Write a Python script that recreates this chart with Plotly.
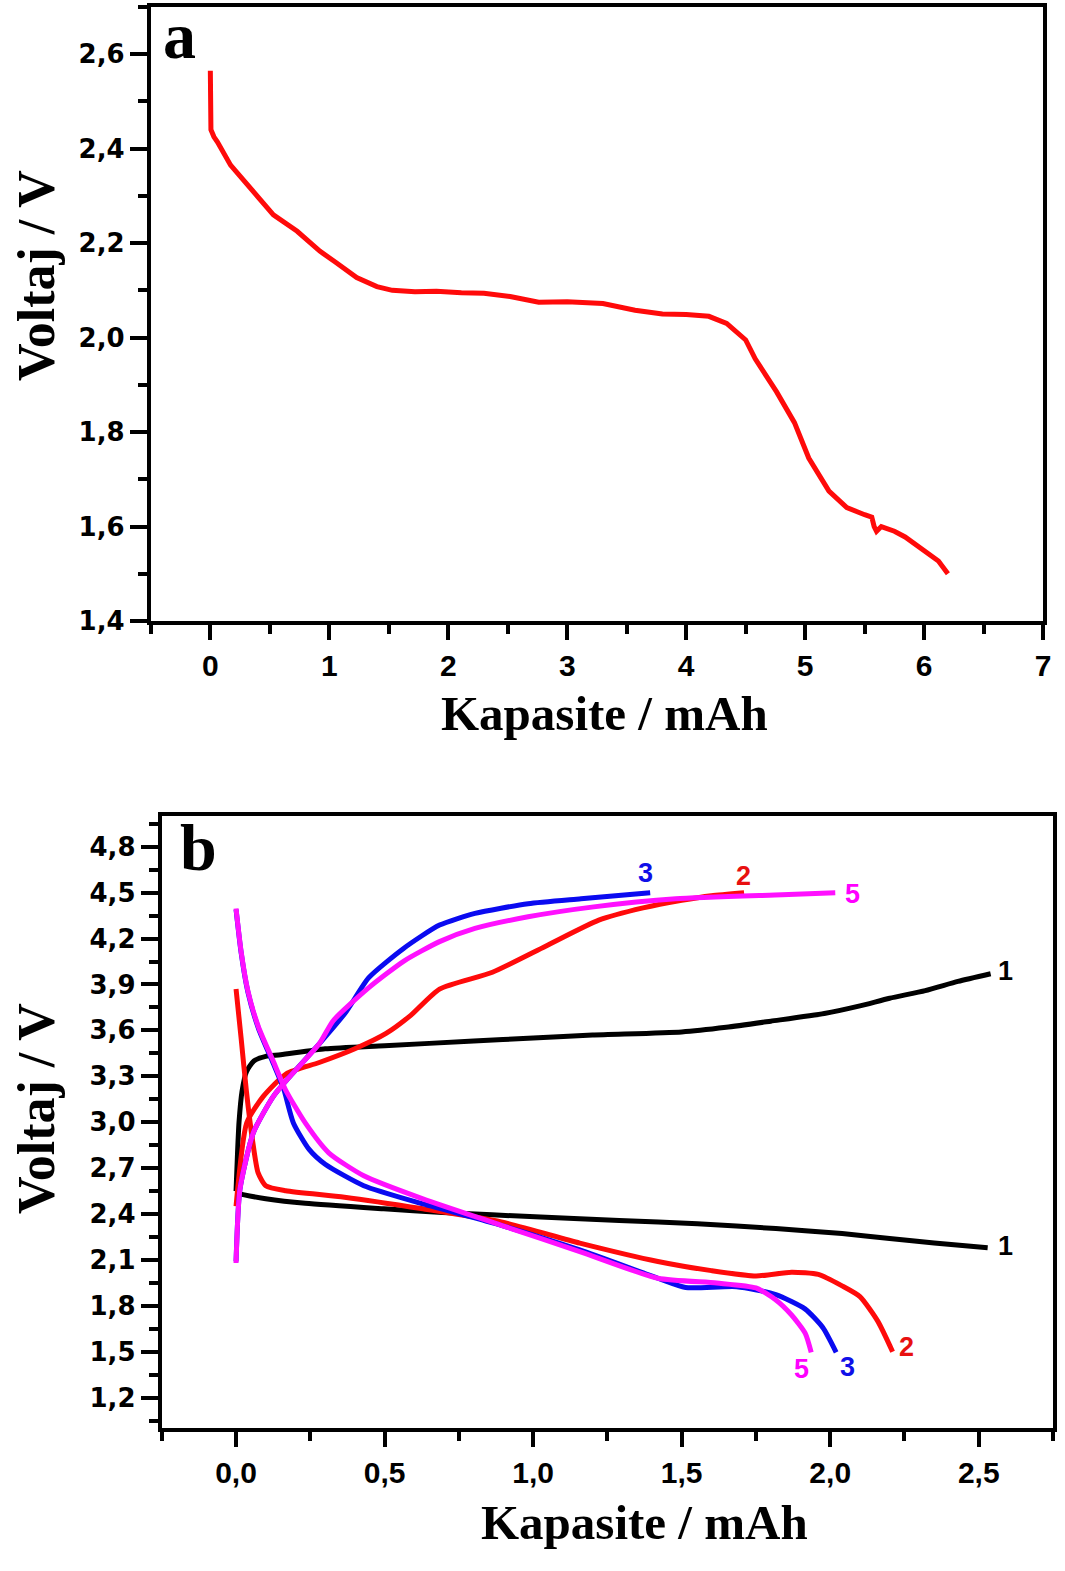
import plotly.graph_objects as go

W, H = 1065, 1571

# ---------------- Panel a data ----------------
a_cap = [0, 0.005, 0.03, 0.06, 0.17, 0.34, 0.53, 0.73, 0.92, 1.05, 1.23, 1.4, 1.53, 1.72,
         1.9, 2.11, 2.3, 2.52, 2.76, 3.0, 3.3, 3.57, 3.8, 4.0, 4.19, 4.34, 4.44, 4.5, 4.58,
         4.76, 4.91, 5.03, 5.2, 5.35, 5.5, 5.56, 5.58, 5.6, 5.64, 5.75, 5.84, 6.0, 6.12, 6.2]
a_volt = [2.565, 2.44, 2.425, 2.414, 2.365, 2.316, 2.26, 2.225, 2.183, 2.16, 2.127, 2.108, 2.1, 2.097,
          2.098, 2.095, 2.094, 2.087, 2.075, 2.076, 2.072, 2.058, 2.05, 2.049, 2.045, 2.03, 2.01, 1.995, 1.955,
          1.885, 1.82, 1.745, 1.675, 1.64, 1.625, 1.62, 1.60, 1.59, 1.60, 1.59, 1.578, 1.55, 1.527, 1.50]

# ---------------- Panel b data ----------------
# cycle 1 (black)
c1_ch_x = [0, 0.005, 0.01, 0.02, 0.035, 0.06, 0.1, 0.15, 0.3, 0.5, 0.8, 1.0, 1.2, 1.5, 1.65, 1.8, 1.98, 2.1, 2.2, 2.32, 2.43, 2.54]
c1_ch_y = [2.55, 2.8, 3.0, 3.2, 3.33, 3.4, 3.43, 3.44, 3.48, 3.5, 3.53, 3.55, 3.57, 3.59, 3.62, 3.66, 3.71, 3.76, 3.81, 3.86, 3.92, 3.97]
c1_dis_x = [0, 0.028, 0.10, 0.233, 0.497, 0.695, 1.025, 1.29, 1.553, 1.817, 2.04, 2.2, 2.35, 2.53]
c1_dis_y = [2.54, 2.525, 2.50, 2.47, 2.434, 2.41, 2.38, 2.358, 2.337, 2.305, 2.272, 2.24, 2.21, 2.18]
# cycle 2 (red)
c2_ch_x = [0, 0.036, 0.091, 0.17, 0.28, 0.40, 0.505, 0.589, 0.685, 0.863, 1.042, 1.221, 1.37, 1.5, 1.6, 1.71]
c2_ch_y = [2.45, 2.995, 3.167, 3.318, 3.39, 3.48, 3.58, 3.70, 3.87, 3.98, 4.15, 4.32, 4.40, 4.45, 4.48, 4.50]
c2_dis_x = [0, 0.017, 0.035, 0.055, 0.074, 0.10, 0.167, 0.365, 0.629, 0.893, 1.157, 1.42, 1.6, 1.75, 1.87, 1.96, 2.04, 2.1, 2.16, 2.21]
c2_dis_y = [3.87, 3.55, 3.2, 2.887, 2.67, 2.585, 2.552, 2.51, 2.434, 2.348, 2.21, 2.09, 2.03, 1.995, 2.02, 2.005, 1.93, 1.86, 1.70, 1.50]
# cycle 3 (blue)
c3_ch_x = [0, 0.013, 0.058, 0.125, 0.18, 0.28, 0.37, 0.446, 0.565, 0.685, 0.804, 0.983, 1.161, 1.394]
c3_ch_y = [2.09, 2.56, 2.93, 3.167, 3.296, 3.512, 3.72, 3.943, 4.137, 4.288, 4.364, 4.428, 4.46, 4.499]
c3_dis_x = [0, 0.017, 0.04, 0.076, 0.124, 0.16, 0.193, 0.246, 0.30, 0.43, 0.629, 0.893, 1.157, 1.42, 1.513, 1.685, 1.817, 1.915, 1.975, 2.02]
c3_dis_y = [4.39, 4.11, 3.85, 3.61, 3.39, 3.22, 2.995, 2.822, 2.725, 2.585, 2.466, 2.326, 2.165, 1.98, 1.92, 1.925, 1.873, 1.78, 1.658, 1.496]
# cycle 5 (magenta)
c5_ch_x = [0, 0.013, 0.058, 0.125, 0.18, 0.28, 0.327, 0.446, 0.565, 0.685, 0.804, 0.983, 1.204, 1.48, 1.838, 2.017]
c5_ch_y = [2.08, 2.56, 2.93, 3.167, 3.296, 3.512, 3.663, 3.878, 4.053, 4.18, 4.266, 4.342, 4.407, 4.46, 4.486, 4.499]
c5_dis_x = [0, 0.017, 0.04, 0.076, 0.124, 0.167, 0.233, 0.312, 0.43, 0.629, 0.893, 1.157, 1.42, 1.618, 1.75, 1.816, 1.87, 1.916, 1.936]
c5_dis_y = [4.396, 4.116, 3.857, 3.62, 3.404, 3.21, 2.995, 2.80, 2.65, 2.499, 2.326, 2.154, 1.98, 1.949, 1.917, 1.84, 1.74, 1.62, 1.496]

# curve labels
lab_text = ["3", "2", "5", "1", "1", "2", "3", "5"]
lab_x = [1.377, 1.708, 2.075, 2.59, 2.59, 2.258, 2.058, 1.905]
lab_y = [4.627, 4.608, 4.49, 3.99, 2.19, 1.53, 1.40, 1.386]
lab_col = ["#1010e8", "#e81010", "#ff00ff", "#000000", "#000000", "#e81010", "#1010e8", "#ff00ff"]

RED = "#ff0a0a"
BLUE = "#0a0af0"
MAG = "#ff10ff"
BLK = "#000000"
LW = 5

fig = go.Figure()
fig.add_trace(go.Scatter(x=a_cap, y=a_volt, mode="lines", line=dict(color=RED, width=LW),
                         xaxis="x", yaxis="y", showlegend=False))

series = [
    (c1_ch_x, c1_ch_y, BLK), (c1_dis_x, c1_dis_y, BLK),
    (c2_ch_x, c2_ch_y, RED), (c2_dis_x, c2_dis_y, RED),
    (c3_ch_x, c3_ch_y, BLUE), (c3_dis_x, c3_dis_y, BLUE),
    (c5_ch_x, c5_ch_y, MAG), (c5_dis_x, c5_dis_y, MAG),
]
for sx, sy, col in series:
    fig.add_trace(go.Scatter(x=sx, y=sy, mode="lines", line=dict(color=col, width=LW, shape="spline", smoothing=0.6),
                             xaxis="x2", yaxis="y2", showlegend=False))

def px2x(p):
    return p / W

def px2y(p):
    return 1 - p / H

tick_font_x = dict(family="Liberation Sans, Arial", size=30, color="black", weight="bold")
tick_font_y = dict(family="DejaVu Sans", size=26, color="black", weight="bold")

axis_common = dict(showline=True, linewidth=4, linecolor="black", mirror=True,
                   ticks="outside", tickwidth=4, tickcolor="black", showgrid=False, zeroline=False)

fig.update_layout(
    width=W, height=H,
    margin=dict(l=0, r=0, t=0, b=0),
    paper_bgcolor="white", plot_bgcolor="white",
    separators=",.",
    xaxis=dict(domain=[px2x(152), px2x(1051)], anchor="y", range=[-0.5, 7.0],
               tick0=0, dtick=1, tickformat="d", ticklen=15, tickfont=tick_font_x,
               minor=dict(ticks="outside", dtick=0.5, tick0=0, ticklen=9, tickwidth=4, tickcolor="black"),
               **axis_common),
    yaxis=dict(domain=[px2y(627), px2y(7)], anchor="x", range=[1.4, 2.7],
               tick0=1.4, dtick=0.2, tickformat=".1f", ticklen=17, tickfont=tick_font_y,
               minor=dict(ticks="outside", dtick=0.1, tick0=1.4, ticklen=9, tickwidth=4, tickcolor="black"),
               **axis_common),
    xaxis2=dict(domain=[px2x(163), px2x(1061)], anchor="y2", range=[-0.25, 2.75],
                tick0=0, dtick=0.5, tickformat=".1f", ticklen=15, tickfont=tick_font_x,
                minor=dict(ticks="outside", dtick=0.25, tick0=0, ticklen=9, tickwidth=4, tickcolor="black"),
                **axis_common),
    yaxis2=dict(domain=[px2y(1442), px2y(824)], anchor="x2", range=[1.0, 5.0],
                tick0=1.2, dtick=0.3, tickformat=".1f", ticklen=17, tickfont=tick_font_y,
                minor=dict(ticks="outside", dtick=0.15, tick0=1.2, ticklen=9, tickwidth=4, tickcolor="black"),
                **axis_common),
)

xtitle_font = dict(family="Liberation Serif, Times New Roman", size=49, color="black", weight="bold")
ytitle_font = dict(family="Liberation Serif, Times New Roman", size=52, color="black", weight="bold")
letter_font = dict(family="Liberation Serif, Times New Roman", size=66, color="black", weight="bold")

annots = [
    dict(text="Kapasite / mAh", x=px2x(609), y=px2y(720), font=xtitle_font),
    dict(text="Kapasite / mAh", x=px2x(649), y=px2y(1537), font=xtitle_font),
    dict(text="Voltaj / V", x=px2x(37), y=px2y(278), font=ytitle_font, textangle=-90),
    dict(text="Voltaj / V", x=px2x(37), y=px2y(1119), font=ytitle_font, textangle=-90),
    dict(text="a", x=px2x(181), y=px2y(36), font=letter_font),
    dict(text="b", x=px2x(200), y=px2y(856), font=letter_font),
]
for a in annots:
    fig.add_annotation(xref="paper", yref="paper", showarrow=False,
                       xanchor="center", yanchor="middle", **a)

for t, lx, ly, c in zip(lab_text, lab_x, lab_y, lab_col):
    fig.add_annotation(xref="x2", yref="y2", x=lx, y=ly, text=t, showarrow=False,
                       xanchor="center", yanchor="middle",
                       font=dict(family="Liberation Sans, Arial", size=27, color=c, weight="bold"))

fig.write_html("out.html",
               post_script="document.body.style.margin='0';",
               config={"displayModeBar": False})
